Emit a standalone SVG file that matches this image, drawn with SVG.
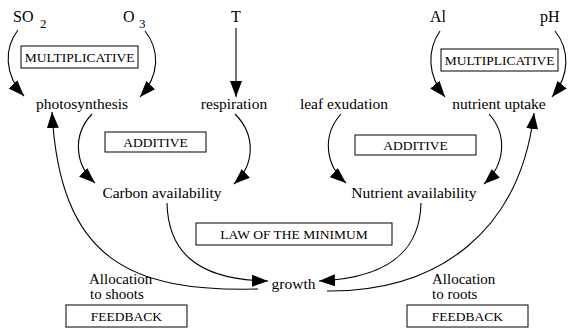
<svg xmlns="http://www.w3.org/2000/svg" width="572" height="331" viewBox="0 0 572 331" font-family="'Liberation Serif', 'Times New Roman', serif">
<defs>
<marker id="ah" markerUnits="userSpaceOnUse" markerWidth="16" markerHeight="12" refX="16" refY="6" orient="auto">
<path d="M0,0 L16,6 L0,12 z" fill="#000"/>
</marker>
<style>
text{font-family:"Liberation Serif","Times New Roman",serif;fill:#000}
.lbl{font-size:15.5px}
.al{font-size:15px}
.top{font-size:16px}
.sub{font-size:13px}
.cap{font-size:13.5px;text-anchor:middle}
.box{fill:#fff;stroke:#000;stroke-width:1}
.c{fill:none;stroke:#000;stroke-width:1.1;marker-end:url(#ah)}
</style>
</defs>
<rect width="572" height="331" fill="#fff"/>
<g id="connectors">
<path class="c" d="M18,30 C4,48 4,75 24,96"/>
<path class="c" d="M145,31 C160,50 160,75 140,97"/>
<path class="c" d="M236,28 L236,97"/>
<path class="c" d="M440,31 C427,50 427,75 445,97"/>
<path class="c" d="M555,31 C570,50 570,75 552,97"/>
<path class="c" d="M92,114 C72,135 75,165 95,183"/>
<path class="c" d="M235,114 C256,135 255,165 234,184"/>
<path class="c" d="M341,114 C322,135 325,165 346,183"/>
<path class="c" d="M489,114 C508,135 505,165 484,184"/>
<path class="c" d="M167,203 C168,250 195,280 268,281"/>
<path class="c" d="M421,203 C420,250 390,278 319,281"/>
<path class="c" d="M258,289 C130,292 60,260 52,112"/>
<path class="c" d="M327,291 C440,292 520,230 534,113"/>
</g>
<g id="so2"><text class="top" x="13" y="22">SO</text><text class="sub" x="40" y="28">2</text></g>
<g id="o3"><text class="top" x="123" y="22">O</text><text class="sub" x="139" y="28">3</text></g>
<g id="t"><text class="top" x="236" y="22" text-anchor="middle">T</text></g>
<g id="al"><text class="top" x="430" y="22">Al</text></g>
<g id="ph"><text class="top" x="540" y="22">pH</text></g>
<g id="mult1"><rect class="box" x="21" y="46" width="117" height="22"/><text class="cap" x="79.5" y="62">MULTIPLICATIVE</text></g>
<g id="mult2"><rect class="box" x="441" y="49" width="117" height="22"/><text class="cap" x="499.5" y="65">MULTIPLICATIVE</text></g>
<g id="photosynthesis"><text class="lbl" x="82" y="109" text-anchor="middle">photosynthesis</text></g>
<g id="respiration"><text class="lbl" x="234" y="109" text-anchor="middle">respiration</text></g>
<g id="leafexudation"><text class="lbl" x="344" y="109" text-anchor="middle">leaf exudation</text></g>
<g id="nutrientuptake"><text class="lbl" x="499" y="109" text-anchor="middle">nutrient uptake</text></g>
<g id="add1"><rect class="box" x="105" y="132" width="101" height="20"/><text class="cap" x="155.5" y="147">ADDITIVE</text></g>
<g id="add2"><rect class="box" x="355" y="135" width="121" height="20"/><text class="cap" x="415.5" y="150">ADDITIVE</text></g>
<g id="carbon"><text class="lbl" x="162" y="198" text-anchor="middle">Carbon availability</text></g>
<g id="nutrient"><text class="lbl" x="414" y="198" text-anchor="middle">Nutrient availability</text></g>
<g id="law"><rect class="box" x="196" y="223" width="196" height="22"/><text class="cap" x="294" y="239">LAW OF THE MINIMUM</text></g>
<g id="growth"><text class="lbl" x="293.5" y="289" text-anchor="middle">growth</text></g>
<g id="allocshoots"><text class="al" x="89" y="284">Allocation</text><text class="al" x="90" y="299">to shoots</text></g>
<g id="allocroots"><text class="al" x="432" y="284">Allocation</text><text class="al" x="432" y="299">to roots</text></g>
<g id="fb1"><rect class="box" x="66" y="305" width="121" height="22"/><text class="cap" x="126.5" y="321">FEEDBACK</text></g>
<g id="fb2"><rect class="box" x="407" y="305" width="121" height="22"/><text class="cap" x="467.5" y="321">FEEDBACK</text></g>
</svg>
